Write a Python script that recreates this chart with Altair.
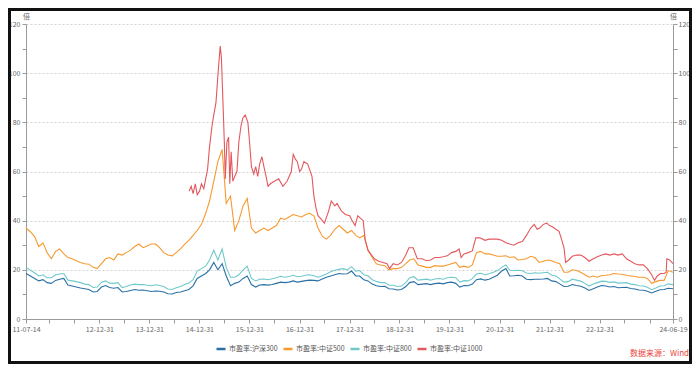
import altair as alt
import pandas as pd

# ---------------- data ----------------
SERIES = ["市盈率:沪深300", "市盈率:中证500", "市盈率:中证800", "市盈率:中证1000"]
COLORS = ["#2A70A6", "#F7992F", "#6FC9CB", "#E4585D"]
SOURCE = ["数据来源：Wind"]

# monthly grid: 2011-07-14, mid-month 2011-08 .. 2024-05, 2024-06-19
MONTHS = (["2011-07-14"]
          + [f"{y}-{m:02d}-15" for y in range(2011, 2025) for m in range(1, 13)
             if (2011, 7) < (y, m) < (2024, 6)]
          + ["2024-06-19"])

HS300 = [
    18.5, 17.5, 16.5, 15.5, 16.0, 14.8,
    14.5, 15.7, 16.2, 16.5, 13.8, 13.4, 13.0, 12.6, 12.3, 12.0, 11.0, 11.2,
    13.0, 13.6, 12.8, 12.5, 12.8, 11.0, 11.2, 11.6, 12.0, 11.7, 11.8, 11.5,
    11.2, 11.4, 11.3, 11.0, 10.3, 10.2, 10.8, 11.0, 11.5, 12.0, 13.5, 16.5,
    17.5, 18.5, 20.0, 23.0, 20.0, 22.5, 17.5, 13.5, 14.5, 15.0, 16.5, 17.5,
    14.0, 13.0, 13.8, 14.0, 13.8, 14.0, 14.5, 15.0, 14.8, 15.0, 15.5, 15.0,
    15.3, 15.6, 15.8, 15.7, 15.5, 16.3, 17.0, 17.5, 18.0, 18.5, 18.3, 18.4,
    19.5, 17.5, 17.5, 16.0, 15.5, 14.2, 13.5, 13.2, 13.3, 12.3, 12.2, 11.8,
    12.0, 13.2, 14.8, 15.2, 14.0, 14.2, 14.4, 14.0, 14.4, 14.6, 14.3, 14.8,
    15.0, 14.5, 13.0, 13.6, 13.5, 14.2, 16.0, 16.3, 15.8, 16.2, 17.0, 17.8,
    19.5, 20.5, 17.5, 17.6, 17.8, 17.5, 16.2, 16.0, 16.2, 16.2, 16.3, 16.5,
    15.5, 15.2, 14.3, 13.2, 13.3, 14.0, 13.6, 13.3, 12.6, 11.6, 12.3, 13.0,
    13.6, 13.4, 13.0, 13.2, 12.7, 12.8, 12.9, 12.4, 12.2, 11.8, 11.7, 11.3,
    10.6, 11.3, 11.9, 12.0, 12.5, 12.3,
]

CSI500 = [
    37.0, 35.5, 33.5, 29.5, 31.0, 27.0,
    24.5, 27.5, 28.5, 26.5, 25.0, 24.5, 23.7, 23.0, 22.5, 22.3, 21.0, 20.5,
    22.5, 24.5, 25.0, 24.0, 26.5, 26.0, 27.0, 28.0, 29.5, 30.5, 29.0, 29.7,
    30.5, 30.5, 29.0, 27.0, 26.0, 25.7, 27.0, 28.5, 30.5, 32.0, 34.0, 36.0,
    38.5, 43.0, 48.0, 56.0, 64.0, 69.0, 47.0, 50.0, 36.0, 40.0, 46.0, 49.0,
    37.0, 35.0, 36.0, 37.0, 36.0, 37.0, 38.0, 41.0, 40.5, 41.5, 42.5, 42.0,
    41.5, 42.5, 43.0, 42.0, 37.0, 33.7, 32.5, 34.0, 36.5, 38.0, 36.5, 35.0,
    36.0, 34.0, 33.0, 34.0, 28.0, 25.0, 22.5, 22.0, 21.7, 20.0, 20.5, 20.5,
    21.0, 22.5, 24.0, 24.5, 22.0, 21.5, 21.0, 21.0, 21.7, 21.5, 21.5, 22.0,
    22.5, 23.0, 21.0, 21.5, 21.0, 22.0, 27.0, 27.5, 26.5, 26.5, 26.0, 25.5,
    25.5, 25.7, 25.0, 25.3, 24.0, 24.2, 24.5, 25.5, 25.0, 23.0, 23.5, 24.0,
    23.7, 23.0, 22.5, 19.0, 19.0, 20.0, 19.7, 19.0, 18.0, 17.0, 17.5, 17.0,
    17.7, 17.8, 18.0, 18.5, 18.3, 18.2, 17.7, 17.5, 17.3, 17.0, 17.0, 16.5,
    14.5, 15.2, 15.7, 15.7, 19.7, 19.0,
]

CSI800 = [
    21.0, 19.8, 18.8, 17.5, 18.0, 16.8,
    16.8, 18.0, 18.3, 18.5, 15.8, 15.5, 15.2, 14.8, 14.2, 14.0, 12.8, 13.0,
    15.0, 15.5, 14.6, 14.5, 14.8, 12.8, 13.2, 13.8, 14.2, 14.0, 14.0, 13.7,
    13.5, 13.9, 13.6, 13.2, 12.2, 12.0, 12.7, 13.2, 14.0, 14.6, 16.0, 19.5,
    20.5, 21.5, 24.0, 28.0, 24.0, 28.5, 21.0, 17.0, 17.0, 18.0, 20.0, 21.5,
    16.5, 15.5, 16.2, 16.3, 16.0, 16.4, 16.8, 17.4, 17.0, 17.3, 17.8, 17.2,
    17.4, 17.8, 18.0, 17.6, 17.0, 17.6, 18.3, 19.2, 19.8, 20.2, 20.5, 20.0,
    21.3, 19.5, 19.7, 18.0, 17.6, 16.0, 15.3, 14.8, 14.8, 13.7, 13.7, 13.2,
    13.4, 14.8, 16.8, 17.2, 15.8, 16.0, 16.2, 15.8, 16.3, 16.5, 16.2, 16.8,
    17.0, 16.8, 15.0, 15.6, 15.5, 16.4, 18.3, 18.6, 18.0, 18.4, 19.0, 19.7,
    21.0, 22.0, 19.8, 19.7, 19.8, 19.6, 18.7, 18.5, 18.8, 18.6, 18.8, 19.0,
    17.8, 17.5, 16.3, 15.0, 15.2, 16.2, 15.8, 15.4, 14.5, 13.4, 14.2, 14.8,
    15.4, 15.3, 14.9, 15.1, 14.6, 14.7, 14.8, 14.2, 14.0, 13.5, 13.4, 12.9,
    11.9, 12.6, 13.4, 13.5, 14.3, 14.0,
]

CSI1000_DATES = [
    "2014-10-17", "2014-11-01", "2014-11-15", "2014-12-01", "2014-12-15",
    "2015-01-01", "2015-01-15", "2015-02-01", "2015-02-15", "2015-03-01",
    "2015-03-15", "2015-04-01", "2015-04-15", "2015-05-01", "2015-05-15",
    "2015-06-01", "2015-06-10", "2015-06-20", "2015-07-01", "2015-07-08",
    "2015-07-20", "2015-08-01", "2015-08-10", "2015-08-20", "2015-09-01",
    "2015-09-15", "2015-10-01", "2015-10-15", "2015-11-01", "2015-11-15",
    "2015-12-01", "2015-12-20", "2016-01-01", "2016-01-15", "2016-02-01",
    "2016-02-15", "2016-03-01", "2016-03-15", "2016-04-01", "2016-04-15",
    "2016-05-01", "2016-05-15", "2016-06-01", "2016-07-01", "2016-08-01",
    "2016-09-01", "2016-10-01", "2016-11-01", "2016-11-15", "2016-12-01",
    "2016-12-15", "2017-01-01", "2017-01-15", "2017-02-01", "2017-03-01",
    "2017-04-01", "2017-04-15", "2017-05-01", "2017-05-15", "2017-06-01",
    "2017-07-01", "2017-08-01", "2017-08-20", "2017-09-15", "2017-10-01",
    "2017-11-01", "2017-12-01", "2018-01-01", "2018-01-20", "2018-02-10",
    "2018-03-01", "2018-03-20", "2018-04-10", "2018-04-25", "2018-05-15",
    "2018-06-10", "2018-07-01", "2018-08-01", "2018-09-01", "2018-10-01",
    "2018-10-20", "2018-11-15", "2018-12-15", "2019-01-15", "2019-02-15",
    "2019-03-10", "2019-04-10", "2019-05-10", "2019-06-15", "2019-07-15",
    "2019-08-15", "2019-09-15", "2019-10-15", "2019-11-15", "2019-12-15",
    "2020-01-15", "2020-02-15", "2020-03-10", "2020-03-25", "2020-04-15",
    "2020-05-15", "2020-06-15", "2020-07-10", "2020-08-10", "2020-09-15",
    "2020-10-15", "2020-11-15", "2020-12-15", "2021-01-15", "2021-02-15",
    "2021-03-15", "2021-04-15", "2021-05-15", "2021-06-15", "2021-07-15",
    "2021-08-15", "2021-09-10", "2021-10-01", "2021-10-20", "2021-11-15",
    "2021-12-10", "2021-12-31", "2022-01-20", "2022-02-15", "2022-03-10",
    "2022-03-25", "2022-04-15", "2022-04-27", "2022-05-20", "2022-06-15",
    "2022-07-15", "2022-08-15", "2022-09-15", "2022-10-15", "2022-11-15",
    "2022-12-15", "2023-01-15", "2023-02-15", "2023-03-15", "2023-04-15",
    "2023-05-15", "2023-06-15", "2023-07-15", "2023-08-15", "2023-09-15",
    "2023-10-15", "2023-11-15", "2023-12-15", "2024-01-15", "2024-02-05",
    "2024-02-25", "2024-03-20", "2024-04-15", "2024-04-30", "2024-05-05",
    "2024-05-25", "2024-06-19",
]
CSI1000 = [
    52.0, 54.0, 51.0, 55.0, 50.5,
    52.0, 55.0, 53.0, 57.0, 61.0,
    70.0, 78.0, 83.0, 88.0, 99.0,
    111.0, 106.0, 90.0, 72.0, 57.0,
    72.0, 74.0, 55.0, 68.0, 56.0,
    58.0, 60.0, 72.0, 79.0, 82.0,
    83.0, 80.0, 72.0, 62.0, 59.0,
    62.0, 58.0, 63.0, 66.0, 62.0,
    58.0, 54.0, 55.0, 56.0, 57.0,
    54.0, 56.0, 60.0, 67.0, 65.0,
    64.0, 60.0, 61.0, 64.0, 63.0,
    58.0, 50.0, 45.0, 42.0, 41.0,
    39.0, 44.0, 48.0, 46.0, 47.0,
    44.0, 42.5, 42.0, 40.0, 38.0,
    42.0, 41.0, 40.0, 32.0, 28.0,
    26.0, 24.5, 23.5, 23.0, 22.5,
    20.5, 22.5, 22.0, 23.0, 26.0,
    29.0, 29.0, 24.5, 24.5, 23.7,
    24.0, 25.0, 25.0, 25.3, 25.7,
    27.0, 27.5, 28.5, 25.0, 26.5,
    27.0, 27.7, 33.0, 33.0, 32.0,
    32.5, 32.5, 32.5, 32.0, 31.0,
    30.5, 30.0, 31.0, 31.5, 34.0,
    37.0, 38.5, 36.5, 37.0, 38.5,
    39.0, 38.0, 37.5, 36.5, 35.7,
    33.0, 29.0, 23.0, 24.0, 25.5,
    26.0, 26.0, 25.0, 23.5, 24.5,
    25.3, 26.0, 26.5, 26.0, 26.5,
    26.0, 26.5, 24.5, 23.5, 22.5,
    22.0, 22.0, 20.5, 18.0, 15.7,
    17.5, 18.5, 18.5, 19.0, 24.5,
    24.0, 22.5,
]

Y_TICKS = list(range(0, 121, 10))
START, END = "2011-07-14", "2024-06-19"
X_TICKS = ([START]
           + [f"{y}-{md}" for y in range(2011, 2024) for md in ("06-30", "12-31")
              if START < f"{y}-{md}" < END]
           + [END])

# ---------------- build table ----------------
rows = []
for name, vals in zip(SERIES[:3], [HS300, CSI500, CSI800]):
    rows += [{"date": d, "v": v, "s": name} for d, v in zip(MONTHS, vals)]
rows += [{"date": d, "v": v, "s": SERIES[3]} for d, v in zip(CSI1000_DATES, CSI1000)]
df = pd.DataFrame(rows)


def ms(d):
    return int(pd.Timestamp(d, tz="UTC").value // 10**6)


START_MS, END_MS = ms(START), ms(END)
x_vals = [ms(d) for d in X_TICKS]

FONT = "Noto Sans CJK SC"
AX = "#9a9a9a"
LAB = "#666666"
W, H = 647, 295
TOP = 16
ORIGIN_Y = 8 + TOP  # page y of the plot's top edge

x_label_expr = (
    f"(datum.value <= {START_MS} || datum.value >= {END_MS} || "
    f"(utcmonth(datum.value) == 11 && utcyear(datum.value) >= 2012 && utcyear(datum.value) <= 2022))"
    f" ? utcFormat(datum.value, '%y-%m-%d') : ''"
)

x_enc = alt.X(
    "date:T",
    scale=alt.Scale(type="utc", domain=[START_MS, END_MS], nice=False),
    axis=alt.Axis(
        values=x_vals, labelExpr=x_label_expr, title=None, grid=False,
        labelFlush=False, labelOverlap=False, labelFontSize=7, labelColor=LAB,
        labelPadding=2, tickSize=4, tickColor=AX, domainColor=AX,
    ),
)

y_scale = alt.Scale(domain=[0, 120], nice=False)


def y_axis(orient, grid):
    kw = dict(
        orient=orient, values=Y_TICKS,
        labelExpr="datum.value % 20 == 0 ? datum.label : ''",
        labelFontSize=7, labelColor=LAB, labelPadding=1 if orient == "right" else 2,
        tickSize=4, tickColor=AX, domainColor=AX,
        title="倍", titleAngle=0, titleX=0, titleY=-5, titleAlign="center",
        titleBaseline="bottom", titleFontSize=7, titleFontWeight="normal",
        titleColor=LAB, grid=grid,
    )
    if grid:
        kw.update(
            gridDash=[2, 2], gridColor="#d4d4d4",
            gridOpacity={"condition": {"test": "datum.value % 20 != 0 || datum.value == 0",
                                       "value": 0}, "value": 1},
        )
    return alt.Axis(**kw)


lines = alt.Chart(df).mark_line(strokeWidth=1.1).encode(
    x=x_enc,
    y=alt.Y("v:Q", scale=y_scale, axis=y_axis("left", True)),
    color=alt.Color(
        "s:N",
        scale=alt.Scale(domain=SERIES, range=COLORS),
        sort=SERIES,
        legend=alt.Legend(
            orient="none", legendX=189, legendY=343 - ORIGIN_Y, direction="horizontal",
            title=None, symbolType="stroke", symbolStrokeWidth=2.5, symbolSize=81,
            labelFontSize=7, labelColor="#555555", columnPadding=0, labelOffset=2,
            padding=0,
        ),
    ),
    order=alt.Order("date:T"),
)

right = alt.Chart(df).mark_line(opacity=0).encode(
    x=x_enc,
    y=alt.Y("v:Q", scale=y_scale, axis=y_axis("right", False)),
    detail="s:N",
)

frame = alt.Chart(pd.DataFrame({"k": [0]})).mark_rect(
    fillOpacity=0, stroke="#111111", strokeWidth=3
).encode(
    x=alt.value(-16.5), x2=alt.value(664.5),
    y=alt.value(1.5 - TOP), y2=alt.value(354.5 - TOP),
)

source = alt.Chart(pd.DataFrame({"t": SOURCE})).mark_text(
    align="right", baseline="middle", fontSize=8, color="#E8453C", font=FONT
).encode(text="t:N", x=alt.value(663), y=alt.value(354 - ORIGIN_Y))

chart = (
    alt.layer(lines, right, frame, source)
    .resolve_axis(y="independent")
    .properties(
        width=W, height=H,
        autosize=alt.AutoSizeParams(type="none"),
        padding={"left": 18, "top": TOP, "right": 684 - 18 - W, "bottom": 356 - TOP - H},
    )
    .configure(font=FONT, background="white")
    .configure_view(stroke=None)
)

chart.save("out.html", embed_options={"renderer": "svg", "actions": False})
